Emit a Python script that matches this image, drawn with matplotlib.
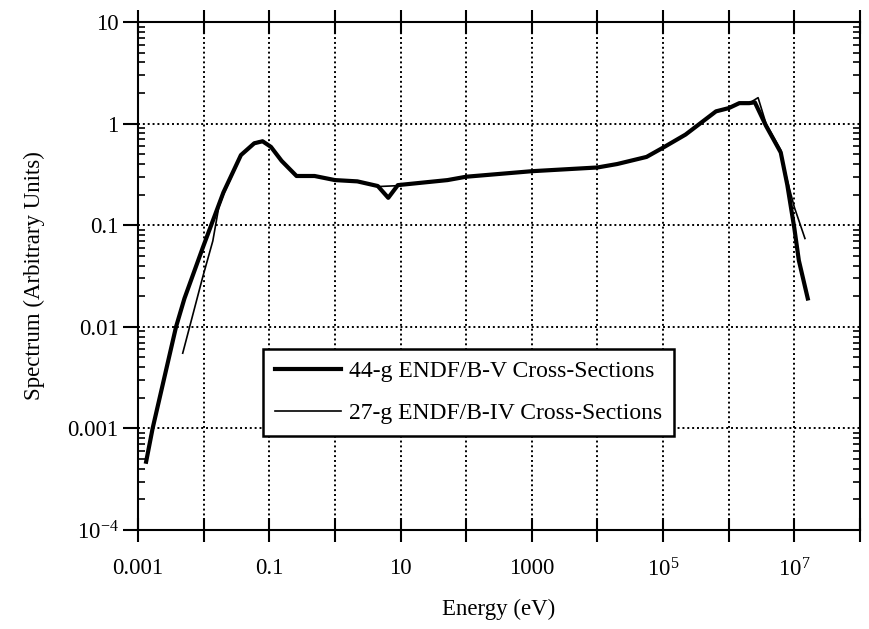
import numpy as np
import matplotlib
matplotlib.use("Agg")
import matplotlib.pyplot as plt
from matplotlib.ticker import FixedLocator, FixedFormatter, LogLocator, NullLocator

# 44-group ENDF/B-V spectrum (thick line)
e44 = [1.33e-3, 1.67e-3, 3.8e-3, 5.1e-3, 9.7e-3, 0.020, 0.037, 0.059, 0.079, 0.106,
       0.154, 0.26, 0.49, 1.0, 2.2, 4.5, 6.5, 9.1, 52, 100, 1e3, 1e4, 2e4, 5.6e4,
       1e5, 2.2e5, 6.4e5, 1e6, 1.45e6, 2.05e6, 2.5e6, 3.7e6, 6.2e6, 7.8e6, 1e7,
       1.17e7, 1.6e7]
s44 = [4.7e-4, 1e-3, 0.01, 0.019, 0.06, 0.21, 0.49, 0.64, 0.67, 0.59,
       0.43, 0.305, 0.305, 0.278, 0.27, 0.243, 0.186, 0.248, 0.278, 0.30, 0.34, 0.37, 0.40, 0.47,
       0.58, 0.78, 1.32, 1.42, 1.59, 1.59, 1.62, 0.95, 0.52, 0.25, 0.093,
       0.045, 0.019]

# 27-group ENDF/B-IV spectrum (thin line)
e27 = [4.8e-3, 9.7e-3, 0.0138, 0.017, 0.020, 0.037, 0.059, 0.079, 0.106, 0.154,
       0.26, 0.49, 1.0, 2.2, 4.5, 9.1, 52, 100, 1e3, 1e4, 2e4, 5.6e4, 1e5, 2.2e5,
       6.4e5, 1e6, 1.45e6, 2.05e6, 2.8e6, 3.7e6, 6.2e6, 7.0e6, 1.0e7, 1.45e7]
s27 = [5.5e-3, 0.031, 0.07, 0.15, 0.20, 0.48, 0.65, 0.68, 0.60, 0.43,
       0.305, 0.305, 0.278, 0.27, 0.24, 0.245, 0.278, 0.30, 0.34, 0.37, 0.40, 0.47, 0.58, 0.78,
       1.32, 1.42, 1.59, 1.59, 1.8, 1.0, 0.55, 0.36, 0.15, 0.074]

xticks = [1e-3, 1e-2, 1e-1, 1, 10, 100, 1e3, 1e4, 1e5, 1e6, 1e7, 1e8]
xlabels = ["0.001", "", "0.1", "", "10", "", "1000", "", r"$\mathregular{10^5}$", "",
           r"$\mathregular{10^7}$", ""]
yticks = [1e-4, 1e-3, 1e-2, 1e-1, 1, 10]
ylabels = [r"$\mathregular{10^{-4}}$", "0.001", "0.01", "0.1", "1", "10"]

plt.rcParams["font.family"] = ["Liberation Serif", "DejaVu Serif"]
plt.rcParams["mathtext.fontset"] = "custom"
plt.rcParams["mathtext.rm"] = "Liberation Serif"

fig = plt.figure(figsize=(8.69, 6.29), dpi=100)
ax = fig.add_axes([138 / 869, 1 - 530 / 629, 722 / 869, 508 / 629])

ax.plot(e44, s44, color="black", lw=3.0, solid_joinstyle="round",
        label="44-g ENDF/B-V Cross-Sections")
ax.plot(e27, s27, color="black", lw=1.2, label="27-g ENDF/B-IV Cross-Sections")

ax.set_xscale("log")
ax.set_yscale("log")
ax.set_xlim(1e-3, 1e8)
ax.set_ylim(1e-4, 10)

ax.xaxis.set_major_locator(FixedLocator(xticks))
ax.xaxis.set_major_formatter(FixedFormatter(xlabels))
ax.xaxis.set_minor_locator(NullLocator())
ax.yaxis.set_major_locator(FixedLocator(yticks))
ax.yaxis.set_major_formatter(FixedFormatter(ylabels))
ax.yaxis.set_minor_locator(LogLocator(base=10, subs=np.arange(2, 10)))

ax.grid(True, which="major", color="black", lw=1.4, linestyle=(0, (1, 1.5)))
for sp in ax.spines.values():
    sp.set_linewidth(1.5)

ax.tick_params(axis="x", which="major", direction="inout", length=17, width=1.5,
               top=True, labelsize=16.5, pad=12)
ax.tick_params(axis="y", which="major", direction="out", length=11, width=1.5,
               labelsize=16.5, pad=3)
ax.tick_params(axis="y", which="minor", direction="in", length=5, width=1.2,
               left=True, right=True)

ax.set_xlabel("Energy (eV)", fontsize=16.5, labelpad=12)
ax.set_ylabel("Spectrum (Arbitrary Units)", fontsize=16.5, labelpad=16)

leg = ax.legend(loc="upper left", bbox_to_anchor=(263 / 869, 1 - 349 / 629),
                bbox_transform=fig.transFigure, borderaxespad=0, fontsize=17,
                frameon=True, fancybox=False, framealpha=1, edgecolor="black",
                handlelength=2.8, handletextpad=0.35, borderpad=0.5,
                labelspacing=0.85)
leg.get_frame().set_linewidth(1.8)

fig.savefig("out.png", dpi=100)
